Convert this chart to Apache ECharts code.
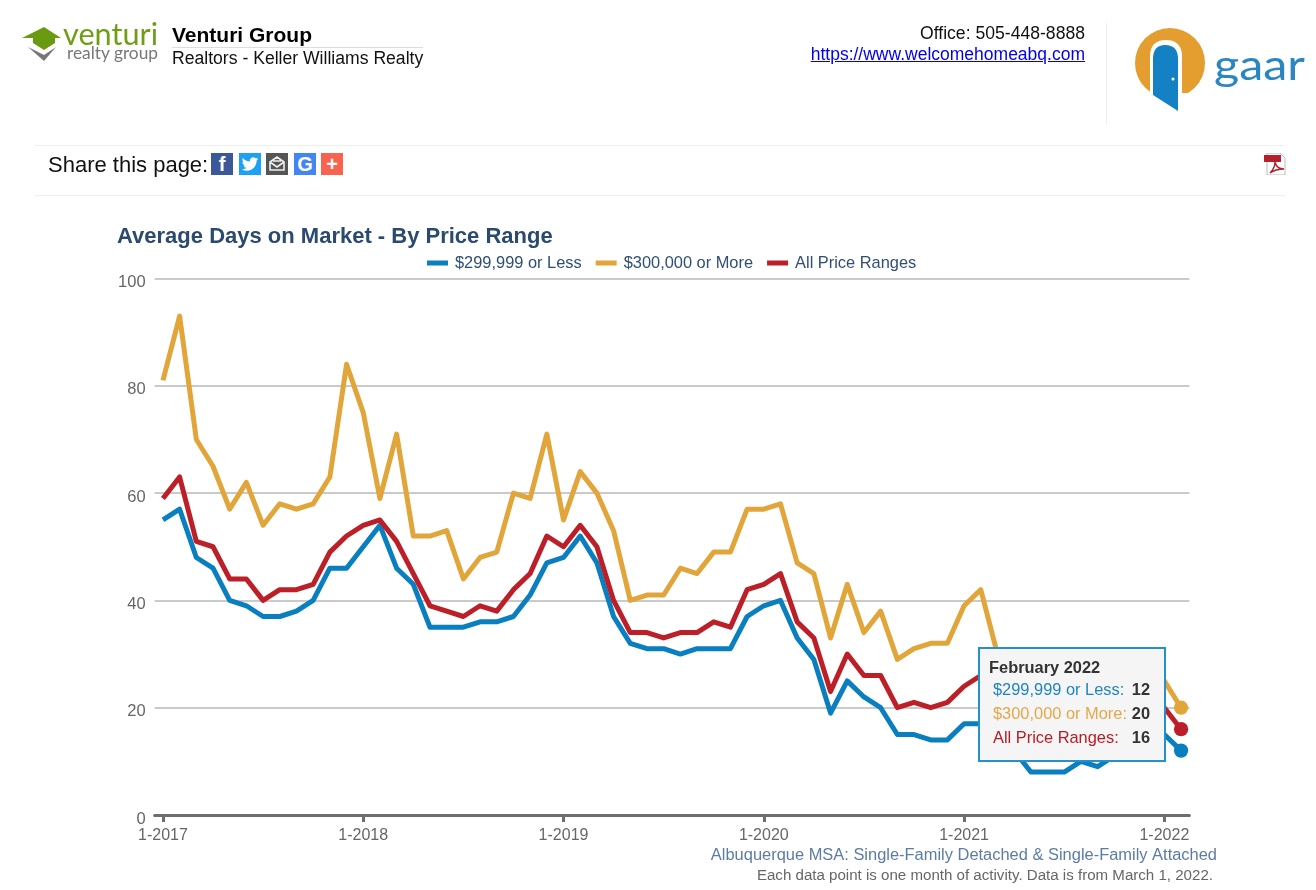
<!DOCTYPE html>
<html>
<head>
<meta charset="utf-8">
<title>Average Days on Market - By Price Range</title>
<script src="https://cdn.jsdelivr.net/npm/echarts@6/dist/echarts.min.js"></script>
<style>
  html, body { margin: 0; padding: 0; background: #fff; }
  body { width: 1316px; height: 890px; position: relative; overflow: hidden; font-family: "Liberation Sans", Arial, sans-serif; }
  #chart { position: absolute; left: 0; top: 0; width: 1316px; height: 890px; }
  .abs { position: absolute; white-space: nowrap; }
  .rule { position: absolute; background: #eeeeee; }
  .icon { position: absolute; top: 153px; width: 22px; height: 22px; color: #fff; text-align: center; line-height: 22px; font-size: 20px; font-weight: bold; }
  .icon svg { display: block; }
</style>
</head>
<body>
<div id="chart"></div>

<!-- page header -->
<svg class="abs" style="left:0;top:0" width="170" height="80">
  <path d="M44 27 L61 38 L55 38 L55 43 L44 50 L33 43 L33 38 L22 38 Z" fill="#6a9a10"/>
  <path d="M28 47 L44 55 L56 47 L44 61 Z" fill="#77777a"/>
  <text x="63" y="45" font-family="Lato" font-size="30" fill="#6f9e16" textLength="95" lengthAdjust="spacingAndGlyphs">venturi</text>
  <text x="67" y="59" font-family="Lato" font-size="18" fill="#777" textLength="91" lengthAdjust="spacingAndGlyphs">realty group</text>
</svg>
<div class="abs" style="left:172px;top:23px;font-size:21px;font-weight:bold;line-height:24px;color:#000">Venturi Group</div>
<div class="rule" style="left:172px;top:47px;width:251px;height:1px;background:#ddd"></div>
<div class="abs" style="left:172px;top:47px;font-size:17.6px;line-height:22px;color:#111">Realtors - Keller Williams Realty</div>
<div class="abs" style="right:231px;top:23px;font-size:17.6px;line-height:20px;color:#111">Office: 505-448-8888</div>
<div class="abs" style="right:231px;top:44px;font-size:17.5px;line-height:20px;color:#0000ee;text-decoration:underline">https://www.welcomehomeabq.com</div>
<div class="rule" style="left:1106px;top:23px;width:1px;height:101px"></div>
<svg class="abs" style="left:1130px;top:25px" width="186" height="90">
  <circle cx="40" cy="38" r="35" fill="#e49d2f"/>
  <path d="M20 72 L20 32 Q20 15 36 15 Q52 15 52 32 L52 72 Z" fill="#fff"/>
  <rect x="15" y="68" width="50" height="10" fill="#fff"/>
  <path d="M23 70 L23 34 Q23 20 35 20 Q48 20 48 34 L48 86 Z" fill="#1481c4"/>
  <circle cx="43" cy="54" r="1.5" fill="#fff"/>
  <text x="84" y="55" font-family="Lato" font-size="43" fill="#2a86c0" textLength="91" lengthAdjust="spacingAndGlyphs">gaar</text>
</svg>

<!-- share bar -->
<div class="rule" style="left:35px;top:145px;width:1250px;height:1px"></div>
<div class="rule" style="left:35px;top:195px;width:1250px;height:1px"></div>
<div class="abs" style="left:48px;top:152px;font-size:22px;line-height:26px;color:#111">Share this page:</div>
<div class="icon" style="left:211px;background:#3b5998">f</div>
<div class="icon" style="left:239px;background:#1da1f2"><svg width="22" height="22" viewBox="-4 -4 32 32"><path fill="#fff" d="M23.95 4.57a10 10 0 01-2.82.77 4.96 4.96 0 002.16-2.72c-.95.55-2 .95-3.12 1.17a4.92 4.92 0 00-8.38 4.48C7.69 8.09 4.07 6.13 1.64 3.16a4.82 4.82 0 00-.67 2.48c0 1.71.87 3.21 2.19 4.1a4.9 4.9 0 01-2.23-.61v.06c0 2.39 1.7 4.38 3.95 4.83a5 5 0 01-2.21.08c.63 1.96 2.45 3.38 4.6 3.42A9.87 9.87 0 010 19.54a13.94 13.94 0 007.55 2.21c9.05 0 14-7.5 14-13.98 0-.21 0-.42-.02-.63a9.94 9.94 0 002.46-2.55z"/></svg></div>
<div class="icon" style="left:266px;background:#555555"><svg width="22" height="22"><path d="M4 17 V9 L11 4 L18 9 V17 Z M4 9 L11 14 L18 9 M7 8 H15" fill="none" stroke="#eee" stroke-width="1.6"/></svg></div>
<div class="icon" style="left:294px;background:#4285f4">G</div>
<div class="icon" style="left:321px;background:#f9624f">+</div>
<svg class="abs" style="left:1264px;top:153px" width="22" height="22">
  <path d="M3 0 H16 L21 5 V22 H3 Z" fill="#fff" stroke="#b9b9b9"/>
  <rect x="0" y="2" width="17" height="7" fill="#b5202c"/>
  <path d="M6 20 C10 16 11 11 11 9 C12 13 15 16 20 16 C15 16 10 17 6 20 Z" fill="none" stroke="#b5202c" stroke-width="1.4"/>
</svg>

<script>
const categories = [
  '1-2017','2-2017','3-2017','4-2017','5-2017','6-2017','7-2017','8-2017','9-2017','10-2017','11-2017','12-2017',
  '1-2018','2-2018','3-2018','4-2018','5-2018','6-2018','7-2018','8-2018','9-2018','10-2018','11-2018','12-2018',
  '1-2019','2-2019','3-2019','4-2019','5-2019','6-2019','7-2019','8-2019','9-2019','10-2019','11-2019','12-2019',
  '1-2020','2-2020','3-2020','4-2020','5-2020','6-2020','7-2020','8-2020','9-2020','10-2020','11-2020','12-2020',
  '1-2021','2-2021','3-2021','4-2021','5-2021','6-2021','7-2021','8-2021','9-2021','10-2021','11-2021','12-2021',
  '1-2022','2-2022'
];
const under300 = [
  55,57,48,46,40,39,37,37,38,40,46,46,
  50,54,46,43,35,35,35,36,36,37,41,47,
  48,52,47,37,32,31,31,30,31,31,31,37,
  39,40,33,29,19,25,22,20,15,15,14,14,
  17,17,16,12,8,8,8,10,9,11,13,14,
  15,12
];
const over300 = [
  81,93,70,65,57,62,54,58,57,58,63,84,
  75,59,71,52,52,53,44,48,49,60,59,71,
  55,64,60,53,40,41,41,46,45,49,49,57,
  57,58,47,45,33,43,34,38,29,31,32,32,
  39,42,30,25,24,25,25,27,27,26,28,29,
  25,20
];
const allRanges = [
  59,63,51,50,44,44,40,42,42,43,49,52,
  54,55,51,45,39,38,37,39,38,42,45,52,
  50,54,50,40,34,34,33,34,34,36,35,42,
  43,45,36,33,23,30,26,26,20,21,20,21,
  24,26,27,24,19,20,19,20,20,22,21,20,
  20,16
];
const seriesNames = ['$299,999 or Less', '$300,000 or More', 'All Price Ranges'];
const lineColors = ['#0a7fc0', '#e2a53a', '#bc1f27'];
const tipColors = ['#1f85c2', '#e3a84a', '#b81c25'];
const tipMonth = 'February 2022';
const lastIndex = categories.length - 1;
const FONT = '"Liberation Sans", Arial, sans-serif';

function makeLine(name, values, color) {
  return {
    name: name,
    type: 'line',
    data: values,
    showAllSymbol: true,
    symbol: function (v, p) { return p.dataIndex === lastIndex ? 'circle' : 'none'; },
    symbolSize: 13,
    lineStyle: { width: 5, color: color, join: 'round' },
    itemStyle: { color: color },
    emphasis: { disabled: true }
  };
}

// only January gets a tick and a label
function isJanuary(i) { return categories[i].indexOf('1-') === 0; }

const chart = echarts.init(document.getElementById('chart'));
chart.setOption({
  animation: false,
  textStyle: { fontFamily: FONT },
  title: {
    text: 'Average Days on Market - By Price Range',
    left: 117, top: 226,
    padding: 0,
    textStyle: { fontFamily: FONT, fontSize: 22, fontWeight: 'bold', color: '#2b4a6f' }
  },
  legend: {
    left: 427, top: 255,
    padding: 0,
    icon: 'rect',
    itemWidth: 21, itemHeight: 5, itemGap: 14,
    selectedMode: false,
    data: seriesNames,
    textStyle: { fontFamily: FONT, fontSize: 16.4, color: '#2f4f76', padding: [0, 0, 0, 2] }
  },
  grid: { left: 154.6, right: 126.6, top: 278.5, bottom: 75 },
  tooltip: {
    trigger: 'axis',
    axisPointer: { type: 'none' },
    alwaysShowContent: true,
    transitionDuration: 0,
    position: [978, 647],
    padding: 0,
    borderWidth: 0,
    backgroundColor: 'transparent',
    extraCssText: 'box-shadow:none;',
    formatter: function (params) {
      let rows = '';
      params.forEach(function (p, i) {
        rows += '<div style="position:absolute;left:13px;top:' + (30 + i * 24) + 'px;color:' + tipColors[i] + '">' + p.seriesName + ':</div>' +
          '<div style="position:absolute;right:14px;top:' + (30 + i * 24) + 'px;font-weight:bold;color:#333">' + p.value + '</div>';
      });
      return '<div style="position:relative;box-sizing:border-box;width:188px;height:115px;background:#f5f5f5;border:2px solid #2391cb;font:16.4px/20px ' + FONT.replace(/"/g, "'") + '">' +
        '<div style="position:absolute;left:9px;top:8px;font-weight:bold;color:#333">' + tipMonth + '</div>' + rows + '</div>';
    }
  },
  xAxis: {
    type: 'category',
    boundaryGap: true,
    data: categories,
    axisLine: { lineStyle: { color: '#6e6e6e', width: 3 } },
    axisTick: { show: true, alignWithLabel: true, interval: isJanuary, length: 7, lineStyle: { color: '#6e6e6e', width: 3 } },
    axisLabel: { interval: isJanuary, fontSize: 16, color: '#666', margin: 13 }
  },
  yAxis: {
    type: 'value',
    min: 0, max: 100, interval: 20,
    axisLine: { show: false },
    axisTick: { show: false },
    axisLabel: { fontSize: 16.5, color: '#666', margin: 9, verticalAlign: 'top', lineHeight: 8 },
    splitLine: { lineStyle: { color: '#b8b8b8', width: 1.5 } }
  },
  graphic: [
    { type: 'text', right: 99, top: 847, style: { text: 'Albuquerque MSA: Single-Family Detached & Single-Family Attached', font: '16.45px ' + FONT, fill: '#5d7ca3' } },
    { type: 'text', right: 103, top: 868, style: { text: 'Each data point is one month of activity. Data is from March 1, 2022.', font: '15.1px ' + FONT, fill: '#666' } }
  ],
  series: [
    makeLine(seriesNames[0], under300, lineColors[0]),
    makeLine(seriesNames[1], over300, lineColors[1]),
    makeLine(seriesNames[2], allRanges, lineColors[2])
  ]
});
chart.dispatchAction({ type: 'showTip', seriesIndex: 0, dataIndex: lastIndex });
</script>
</body>
</html>
